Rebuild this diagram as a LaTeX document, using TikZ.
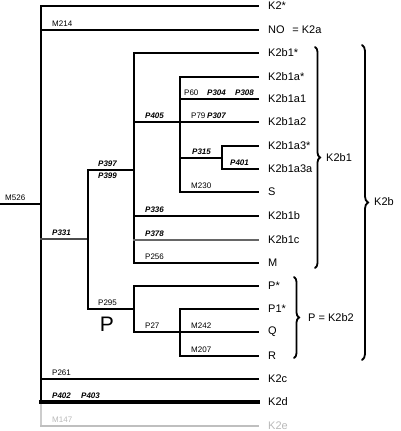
\documentclass[tikz,border=0pt]{standalone}
\usepackage{fontspec}
\setmainfont{Liberation Sans}
\usetikzlibrary{decorations.pathreplacing}
\begin{document}
\begin{tikzpicture}[x=1pt,y=-1pt,
  leaf/.style={anchor=west, inner sep=0pt, font=\fontsize{11}{12}\selectfont},
  mut/.style={anchor=south west, inner sep=0pt, font=\fontsize{8}{9}\selectfont},
  mutb/.style={mut, font=\fontsize{8}{9}\selectfont\bfseries\itshape},
  br/.style={line width=2.9pt, line cap=rect},
  tol/.style={br, shorten >=10pt},
  curly/.style={decorate, line width=1.8pt, line cap=round, decoration={brace, amplitude=#1}},
  grp/.style={anchor=west, inner sep=0pt, font=\fontsize{11}{12}\selectfont}
]
\useasboundingbox (0,0) rectangle (400,431);

% leaf labels
\node[leaf] (lK2s) at (268,6) {K2*};
\node[leaf] (lK2a) at (268,30) {NO\hspace{0.7em}= K2a};
\node[leaf] (lK2b1s) at (268,53) {K2b1*};
\node[leaf] (lK2b1as) at (268,77) {K2b1a*};
\node[leaf] (lK2b1a1) at (268,99) {K2b1a1};
\node[leaf] (lK2b1a2) at (268,122) {K2b1a2};
\node[leaf] (lK2b1a3s) at (268,146) {K2b1a3*};
\node[leaf] (lK2b1a3a) at (268,169) {K2b1a3a};
\node[leaf] (lS) at (268,192) {S};
\node[leaf] (lK2b1b) at (268,216) {K2b1b};
\node[leaf] (lK2b1c) at (268,240) {K2b1c};
\node[leaf] (lM) at (268,263) {M};
\node[leaf] (lPs) at (268,286) {P*};
\node[leaf] (lP1s) at (268,309) {P1*};
\node[leaf] (lQ) at (268,332) {Q};
\node[leaf] (lR) at (268,356) {R};
\node[leaf] (lK2c) at (268,379) {K2c};
\node[leaf] (lK2d) at (268,402) {K2d};
\node[leaf, text=gray!55] (lK2e) at (268,426) {K2e};

% internal nodes
\coordinate (root) at (41,204);
\coordinate (rootL) at (0,204);
\coordinate (nK2b) at (88,239);
\coordinate (nK2b1) at (134,170);
\coordinate (nK2b1a) at (180,122);
\coordinate (nA3) at (222,158);
\coordinate (nK2b2) at (134,309);
\coordinate (nQR) at (180,332);

% root
\draw[br] (rootL) -- (root);
\draw[br] (41,6) -- (41,402);
\draw[line width=2pt, gray!40] (41,402) -- (41,426);
\draw[tol] (41,6) -- (lK2s.west);
\draw[tol] (41,30) -- (lK2a.west);
\draw[br, black!70] (41,239) -- (nK2b);
\draw[tol] (41,379) -- (lK2c.west);
\draw[tol, line width=3.4pt] (41,402) -- (lK2d.west);
\draw[tol, line width=2.2pt, gray!50] (41,426) -- (lK2e.west);

% K2b
\draw[br] (88,170) -- (88,309);
\draw[br] (88,170) -- (nK2b1);
\draw[br] (88,309) -- (nK2b2);

% K2b1
\draw[br] (134,53) -- (134,263);
\draw[tol] (134,53) -- (lK2b1s.west);
\draw[br] (134,122) -- (nK2b1a);
\draw[tol] (134,216) -- (lK2b1b.west);
\draw[tol, black!60] (134,240) -- (lK2b1c.west);
\draw[tol] (134,263) -- (lM.west);

% K2b1a
\draw[br] (180,77) -- (180,192);
\draw[tol] (180,77) -- (lK2b1as.west);
\draw[tol] (180,99) -- (lK2b1a1.west);
\draw[tol] (180,122) -- (lK2b1a2.west);
\draw[br] (180,158) -- (nA3);
\draw[tol] (180,192) -- (lS.west);

% K2b1a3
\draw[br] (222,146) -- (222,169);
\draw[tol] (222,146) -- (lK2b1a3s.west);
\draw[tol] (222,169) -- (lK2b1a3a.west);

% K2b2
\draw[br] (134,286) -- (134,332);
\draw[tol] (134,286) -- (lPs.west);
\draw[br] (134,332) -- (nQR);
\draw[br] (180,309) -- (180,356);
\draw[tol] (180,309) -- (lP1s.west);
\draw[tol] (180,332) -- (lQ.west);
\draw[tol] (180,356) -- (lR.west);

% mutation labels
\node[mut] (m214) at (52,27) {M214};
\node[mut] (m526) at (5,201) {M526};
\node[mutb] (p331) at (52,236) {P331};
\node[mutb] (p397) at (98,167) {P397};
\node[mutb, anchor=north west] (p399) at (98,173) {P399};
\node[mutb] (p405) at (145,119) {P405};
\node[mut] (p60) at (184,96) {P60};
\node[mutb] (p304) at (207,96) {P304};
\node[mutb] (p308) at (235,96) {P308};
\node[mut] (p79) at (191,119) {P79};
\node[mutb] (p307) at (207,119) {P307};
\node[mutb] (p315) at (192,155) {P315};
\node[mutb] (p401) at (230,166) {P401};
\node[mut] (m230) at (191,189) {M230};
\node[mutb] (p336) at (145,213) {P336};
\node[mutb] (p378) at (145,237) {P378};
\node[mut] (p256) at (145,260) {P256};
\node[mut] (p295) at (98,306) {P295};
\node[inner sep=0pt, font=\fontsize{21}{22}\selectfont] (bigP) at (107,324) {P};
\node[mut] (p27) at (145,329) {P27};
\node[mut] (m242) at (191,329) {M242};
\node[mut] (m207) at (191,353) {M207};
\node[mut] (p261) at (52,376) {P261};
\node[mutb] (p402) at (52,399) {P402};
\node[mutb] (p403) at (81,399) {P403};
\node[mut, text=gray!55] (m147) at (52,423) {M147};

% braces
\draw[curly=5pt] (315,47) -- (315,268);
\node[grp] (gK2b1) at (326,158) {K2b1};
\draw[curly=6pt] (362,45) -- (362,360);
\node[grp] (gK2b) at (374,202) {K2b};
\draw[curly=5pt] (294,277) -- (294,358);
\node[grp] (gK2b2) at (308,318) {P = K2b2};
\end{tikzpicture}
\end{document}
